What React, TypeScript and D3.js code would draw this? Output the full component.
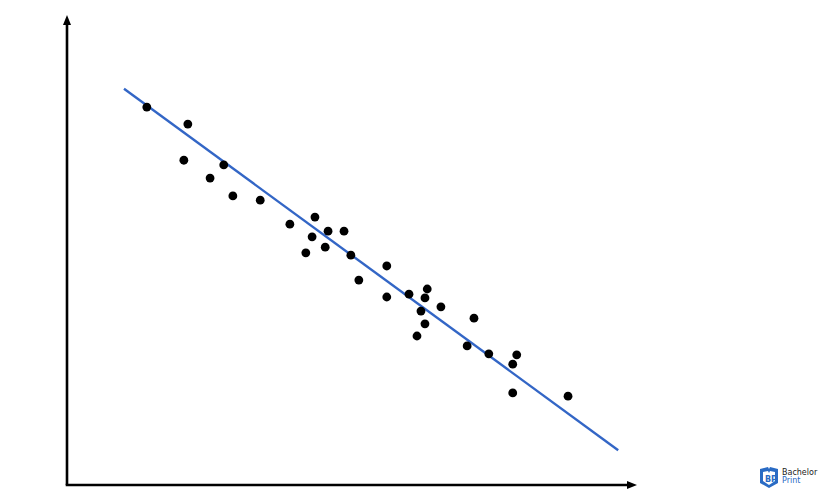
import React from "react";
import * as d3 from "d3";

const xValues = [14.0, 21.2, 20.5, 27.5, 25.1, 29.1, 33.9, 39.1, 43.5, 43.0, 45.8, 48.6, 41.9, 45.3, 49.8, 56.1, 51.2, 56.1, 60.0, 63.2, 62.8, 65.6, 62.1, 62.8, 61.4, 71.4, 70.2, 74.0, 78.9, 78.2, 78.2, 87.9];
const yValues = [80.4, 76.8, 69.1, 68.1, 65.3, 61.5, 60.6, 55.5, 57.0, 52.8, 54.0, 54.0, 49.4, 50.6, 48.9, 46.6, 43.6, 40.0, 40.6, 41.7, 39.8, 37.9, 37.0, 34.3, 31.7, 35.5, 29.6, 27.9, 27.7, 25.7, 19.6, 18.9];
const fitX = [10.0, 96.7];
const fitY = [84.3, 7.4];
const logoWords = ["Bachelor", "Print"];

const W = 825;
const H = 500;

export default function App() {
  const x = d3.scaleLinear().domain([0, 100]).range([67, 637]);
  const y = d3.scaleLinear().domain([0, 100]).range([485, 15]);
  const pts = xValues.map((v, i) => [v, yValues[i]] as [number, number]);
  const fit = fitX.map((v, i) => [v, fitY[i]] as [number, number]);
  const line = d3
    .line<[number, number]>()
    .x((d) => x(d[0]))
    .y((d) => y(d[1]));
  const x0 = x(0);
  const y0 = y(0);
  const xEnd = x(100);
  const yEnd = y(100);
  return (
    <div style={{ position: "absolute", left: 0, top: 0 }}>
      <svg width={W} height={H} style={{ display: "block", background: "#fff" }}>
        <rect x={0} y={0} width={W} height={H} fill="#ffffff" />
        {/* axes */}
        <line x1={x0} y1={y0} x2={x0} y2={yEnd + 8} stroke="#000" strokeWidth={2.6} />
        <line x1={x0 - 1.3} y1={y0} x2={xEnd - 8} y2={y0} stroke="#000" strokeWidth={2.6} />
        <path d={`M${x0},${yEnd} L${x0 - 4},${yEnd + 10} L${x0 + 4},${yEnd + 10} Z`} fill="#000" />
        <path d={`M${xEnd},${y0} L${xEnd - 10},${y0 - 4} L${xEnd - 10},${y0 + 4} Z`} fill="#000" />
        {/* regression line */}
        <path d={line(fit) || ""} fill="none" stroke="#3366c6" strokeWidth={2.4} />
        {/* points */}
        {pts.map((d, i) => (
          <circle key={i} cx={x(d[0])} cy={y(d[1])} r={4.4} fill="#000" />
        ))}
        {/* logo */}
        <g transform="translate(760,467)">
          <path d="M0,2 L8,0 L9,2 L10,0 L18,2 L18,16 L9,21 L0,16 Z" fill="#2a6bc4" />
          <path d="M3,5 L8,4 L9,6 L10,4 L15,5 L15,14 L9,18 L3,14 Z" fill="#fff" />
          <text x={5} y={15} fontSize={8} fontFamily="DejaVu Sans" fontWeight="bold" fill="#2a6bc4">BP</text>
          <text x={22} y={8} fontSize={8} fontFamily="DejaVu Sans" fill="#222">{logoWords[0]}</text>
          <text x={22} y={16} fontSize={8} fontFamily="DejaVu Sans" fill="#2a6bc4">{logoWords[1]}</text>
        </g>
      </svg>
    </div>
  );
}
